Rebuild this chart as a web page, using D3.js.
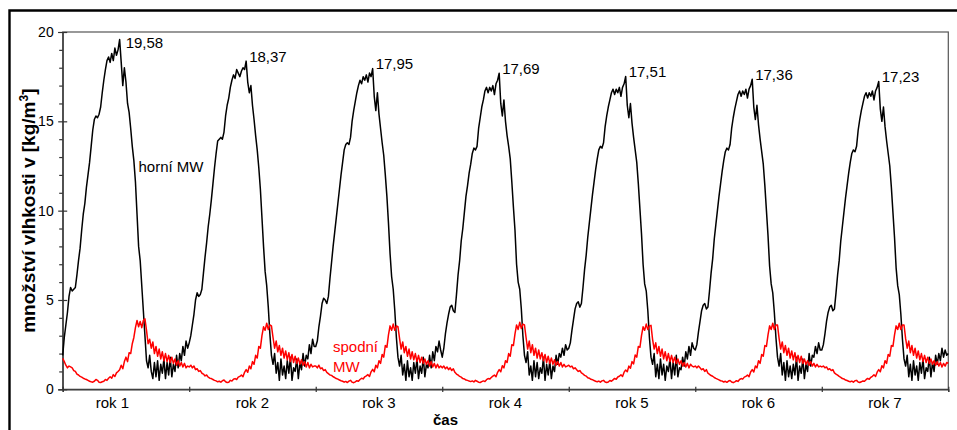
<!DOCTYPE html>
<html>
<head>
<meta charset="utf-8">
<script src="https://cdn.jsdelivr.net/npm/d3@7"></script>
<style>
  body { margin: 0; background: #fff; }
  svg { display: block; }
  text { font-family: "Liberation Sans", Arial, Helvetica, sans-serif; }
</style>
</head>
<body>
<svg id="chart" width="957" height="430"></svg>
<script>
// Year labels along the time axis
const years = ["rok 1", "rok 2", "rok 3", "rok 4", "rok 5", "rok 6", "rok 7"];
const samplesPerYear = 80;

// Annual maxima of the upper layer (also printed above each peak)
const peakValues = [19.58, 18.37, 17.95, 17.69, 17.51, 17.36, 17.23];

const yMajorTicks = [0, 5, 10, 15, 20];
const yMinorTicks = [1, 2, 3, 4, 6, 7, 8, 9, 11, 12, 13, 14, 16, 17, 18, 19];

// Moisture content in the upper mineral wool layer [kg/m3], 80 samples per year
const horniMW = [
  // rok 1
  1.9,2.9,3.6,4.3,5.2,5.7,5.5,5.6,5.7,6.4,
  7.2,7.9,8.9,9.8,10.4,11.3,12.0,12.7,13.6,14.5,
  15.1,15.3,15.2,15.4,15.8,16.6,17.3,17.9,18.4,18.6,
  18.3,18.8,18.4,19.1,18.7,19.0,19.58,18.3,17.0,18.0,
  17.2,16.0,15.5,14.6,13.6,12.8,11.6,9.8,8.0,7.2,
  5.8,4.4,3.0,1.6,1.2,1.9,1.0,0.6,1.5,0.7,
  1.6,0.5,1.4,0.9,1.7,0.6,1.5,0.8,1.8,0.7,
  1.4,1.0,1.9,1.2,2.0,1.6,2.4,1.9,2.7,2.3,
  // rok 2
  2.6,3.0,3.6,4.2,5.0,5.4,5.2,5.3,5.6,6.5,
  7.4,8.2,9.1,9.8,10.6,11.5,12.4,13.2,13.9,14.0,
  14.1,14.0,14.4,15.3,15.9,16.3,16.9,17.3,17.6,17.4,
  17.9,17.7,17.5,17.8,18.0,17.9,18.37,17.2,16.6,17.0,
  15.9,15.1,14.2,13.4,12.4,11.2,9.6,8.0,6.6,5.8,
  4.6,3.1,1.9,1.4,2.0,0.9,1.5,0.5,1.7,0.8,
  1.3,0.6,1.6,0.9,1.8,0.5,1.2,1.0,1.7,0.6,
  1.5,1.1,2.0,1.3,1.9,1.7,2.5,2.0,2.8,2.4,
  // rok 3
  2.4,2.7,3.5,4.1,4.8,5.1,5.0,4.8,5.2,6.2,
  7.1,8.0,8.8,9.6,10.4,11.2,12.0,12.7,13.4,13.7,
  13.8,13.7,14.1,15.0,15.6,16.1,16.6,17.0,17.3,17.1,
  17.5,17.3,17.6,17.2,17.7,17.5,17.95,16.4,15.6,16.6,
  15.4,14.6,13.8,13.1,12.0,10.8,9.3,7.6,6.3,5.6,
  4.4,2.9,1.8,1.3,1.9,0.8,1.4,0.5,1.6,0.7,
  1.2,0.5,1.5,0.9,1.7,0.6,1.3,0.9,1.8,0.7,
  1.4,1.2,1.9,1.2,2.1,1.6,2.4,2.1,2.7,2.2,
  // rok 4
  1.8,2.3,3.1,3.7,4.2,4.6,4.7,4.4,4.3,5.3,
  6.4,7.2,8.3,9.0,9.9,10.8,11.4,12.1,12.6,13.2,
  13.5,13.4,13.6,14.6,15.2,15.8,16.2,16.7,16.9,16.6,
  16.9,16.7,17.0,16.5,17.1,17.3,17.69,16.0,15.3,16.2,
  15.0,14.2,13.6,12.9,11.6,10.2,8.9,7.0,6.0,5.6,
  4.5,3.0,1.9,1.5,2.1,0.8,1.3,0.5,1.6,0.7,
  1.5,0.6,1.2,0.9,1.8,0.5,1.4,0.8,1.6,0.6,
  1.3,1.0,1.9,1.4,2.0,1.8,2.3,1.9,2.5,2.2,
  // rok 5
  2.3,2.6,3.3,3.9,4.5,4.8,4.9,4.6,4.8,5.7,
  6.7,7.5,8.5,9.3,10.1,10.9,11.6,12.3,12.9,13.4,
  13.6,13.5,13.8,14.7,15.3,15.8,16.2,16.6,16.8,16.5,
  16.8,16.6,16.9,16.4,16.9,17.1,17.51,15.9,15.2,16.0,
  14.9,14.1,13.4,12.7,11.5,10.1,8.7,7.0,5.9,5.5,
  4.4,2.9,1.8,1.4,2.0,0.7,1.4,0.6,1.7,0.8,
  1.4,0.5,1.3,1.0,1.7,0.6,1.5,0.8,1.9,0.7,
  1.2,1.1,1.8,1.3,2.1,1.7,2.4,1.9,2.6,2.3,
  // rok 6
  2.2,2.5,3.2,3.8,4.4,4.7,4.8,4.5,4.6,5.5,
  6.5,7.3,8.4,9.2,10.0,10.8,11.5,12.2,12.8,13.3,
  13.5,13.4,13.7,14.6,15.2,15.7,16.1,16.5,16.7,16.4,
  16.7,16.5,16.8,16.3,16.8,17.0,17.36,15.8,15.1,15.9,
  14.8,14.0,13.3,12.6,11.4,10.0,8.6,6.9,5.9,5.4,
  4.3,2.9,1.8,1.3,2.0,0.8,1.5,0.5,1.6,0.7,
  1.3,0.6,1.4,0.8,1.8,0.5,1.3,0.9,1.7,0.6,
  1.4,1.0,2.0,1.3,1.9,1.8,2.4,2.0,2.6,2.2,
  // rok 7
  2.2,2.5,3.1,3.8,4.3,4.6,4.7,4.4,4.5,5.4,
  6.4,7.2,8.3,9.1,9.9,10.7,11.4,12.1,12.7,13.2,
  13.4,13.3,13.6,14.5,15.1,15.6,16.0,16.4,16.6,16.3,
  16.6,16.4,16.7,16.2,16.7,16.9,17.23,15.7,15.0,15.8,
  14.7,13.9,13.2,12.5,11.3,9.9,8.5,6.8,5.8,5.3,
  4.2,2.8,1.7,1.3,1.9,0.7,1.4,0.5,1.6,0.8,
  1.3,0.5,1.5,0.9,1.7,0.6,1.2,1.0,1.8,0.7,
  1.5,1.0,1.9,1.4,2.0,1.6,2.3,1.8,2.2,1.9,
  2.0
];

// Moisture content in the lower mineral wool layer [kg/m3], 80 samples per year
const spodniMW = [
  // rok 1
  1.74,1.55,1.35,1.2,1.3,1.25,1.2,1.05,1.0,0.85,
  0.8,0.72,0.68,0.62,0.58,0.55,0.5,0.45,0.42,0.4,
  0.45,0.55,0.5,0.4,0.38,0.42,0.45,0.55,0.5,0.62,
  0.7,0.62,0.82,0.72,0.92,1.0,1.1,1.35,1.15,1.55,
  1.8,1.55,2.05,2.0,2.55,2.9,3.45,3.85,3.5,3.8,
  3.45,3.85,3.95,3.3,2.55,2.8,2.3,2.65,2.0,2.4,
  1.85,2.25,1.7,2.1,1.6,2.0,1.55,1.9,1.5,1.8,
  1.45,1.7,1.35,1.6,1.3,1.5,1.25,1.45,1.2,1.3,
  // rok 2
  1.25,1.35,1.2,1.3,1.1,1.15,1.0,1.05,0.9,0.85,
  0.75,0.8,0.68,0.62,0.6,0.55,0.5,0.47,0.42,0.45,
  0.4,0.48,0.52,0.42,0.38,0.4,0.5,0.46,0.56,0.6,
  0.55,0.68,0.72,0.8,0.7,0.95,1.1,0.95,1.3,1.15,
  1.55,1.4,1.9,1.75,2.4,2.3,3.0,3.5,3.3,3.7,
  3.35,3.6,3.55,2.9,2.3,2.7,2.1,2.45,1.9,2.3,
  1.75,2.15,1.65,2.05,1.55,1.95,1.5,1.85,1.45,1.75,
  1.4,1.65,1.35,1.55,1.25,1.5,1.2,1.4,1.25,1.3,
  // rok 3
  1.3,1.2,1.35,1.15,1.2,1.05,1.1,0.95,0.88,0.8,
  0.78,0.7,0.66,0.6,0.57,0.52,0.48,0.45,0.4,0.44,
  0.38,0.46,0.5,0.4,0.37,0.42,0.48,0.45,0.55,0.62,
  0.58,0.7,0.75,0.82,0.72,0.98,1.12,0.98,1.35,1.2,
  1.6,1.45,1.95,1.8,2.45,2.35,3.05,3.55,3.3,3.65,
  3.3,3.55,3.5,2.85,2.25,2.65,2.05,2.4,1.85,2.25,
  1.7,2.1,1.65,2.0,1.55,1.9,1.5,1.8,1.45,1.7,
  1.4,1.6,1.3,1.55,1.25,1.45,1.2,1.4,1.2,1.3,
  // rok 4
  1.2,1.3,1.15,1.25,1.1,1.2,1.05,1.15,0.95,0.85,
  0.8,0.72,0.68,0.6,0.58,0.52,0.5,0.46,0.43,0.47,
  0.41,0.5,0.45,0.4,0.38,0.43,0.47,0.44,0.54,0.6,
  0.57,0.66,0.74,0.8,0.7,0.95,1.1,0.98,1.32,1.2,
  1.6,1.5,2.0,1.85,2.5,2.45,3.1,3.6,3.35,3.75,
  3.4,3.65,3.6,2.9,2.25,2.7,2.05,2.5,1.9,2.3,
  1.75,2.2,1.7,2.05,1.6,1.95,1.5,1.85,1.45,1.75,
  1.4,1.65,1.35,1.55,1.3,1.5,1.25,1.4,1.25,1.3,
  // rok 5
  1.35,1.25,1.3,1.15,1.2,1.1,1.0,1.05,0.92,0.86,
  0.78,0.74,0.65,0.62,0.56,0.54,0.49,0.45,0.42,0.46,
  0.4,0.47,0.5,0.41,0.38,0.41,0.49,0.45,0.53,0.61,
  0.56,0.69,0.73,0.81,0.72,0.96,1.08,0.98,1.3,1.18,
  1.55,1.42,1.92,1.8,2.4,2.35,3.0,3.5,3.3,3.65,
  3.35,3.55,3.58,2.8,2.25,2.6,2.0,2.4,1.85,2.25,
  1.7,2.1,1.6,2.0,1.55,1.9,1.5,1.8,1.45,1.7,
  1.4,1.6,1.3,1.5,1.25,1.45,1.2,1.4,1.3,1.25,
  // rok 6
  1.3,1.2,1.3,1.2,1.1,1.15,1.0,1.1,0.9,0.84,
  0.77,0.73,0.66,0.61,0.57,0.53,0.48,0.46,0.41,0.45,
  0.39,0.46,0.49,0.41,0.37,0.42,0.48,0.44,0.55,0.6,
  0.57,0.68,0.72,0.8,0.7,0.97,1.1,0.97,1.3,1.2,
  1.6,1.45,1.95,1.85,2.45,2.4,3.05,3.55,3.35,3.7,
  3.35,3.6,3.6,2.85,2.25,2.65,2.05,2.45,1.9,2.3,
  1.75,2.15,1.65,2.05,1.55,1.9,1.5,1.85,1.45,1.7,
  1.4,1.6,1.35,1.55,1.3,1.45,1.25,1.4,1.25,1.3,
  // rok 7
  1.25,1.3,1.2,1.25,1.1,1.15,1.05,1.1,0.92,0.85,
  0.79,0.72,0.67,0.6,0.58,0.52,0.49,0.45,0.42,0.46,
  0.4,0.48,0.5,0.41,0.38,0.42,0.47,0.45,0.54,0.61,
  0.56,0.67,0.73,0.81,0.72,0.96,1.1,0.98,1.32,1.2,
  1.6,1.45,1.95,1.85,2.45,2.4,3.05,3.55,3.35,3.7,
  3.35,3.6,3.6,2.85,2.3,2.7,2.05,2.45,1.9,2.3,
  1.75,2.15,1.65,2.0,1.55,1.9,1.5,1.8,1.45,1.7,
  1.4,1.6,1.35,1.55,1.3,1.5,1.25,1.45,1.3,1.5,
  1.45
];

const svg = d3.select("#chart");
const margin = { left: 62.7, right: 948.3, top: 32, bottom: 389.3 };

const x = d3.scaleLinear().domain([0, years.length]).range([margin.left, margin.right]);
const y = d3.scaleLinear().domain([0, 20]).range([margin.bottom, margin.top]);

// Outer figure frame (only the left and top edges fall inside the view)
svg.append("path")
  .attr("d", "M9.5,440 V10.5 H970")
  .attr("fill", "none")
  .attr("stroke", "#000")
  .attr("stroke-width", 2.4);

// Plot frame
svg.append("rect")
  .attr("x", margin.left).attr("y", margin.top)
  .attr("width", margin.right - margin.left)
  .attr("height", margin.bottom - margin.top)
  .attr("fill", "none")
  .attr("stroke", "#555")
  .attr("stroke-width", 1.2);

// Y axis: major ticks crossing the axis line, minor ticks outside
const yMinor = svg.append("g")
  .attr("transform", `translate(${margin.left},0)`)
  .call(d3.axisLeft(y).tickValues(yMinorTicks).tickSize(3.5).tickFormat(""));
yMinor.select(".domain").remove();

const yAxis = svg.append("g")
  .attr("transform", `translate(${margin.left},0)`)
  .call(d3.axisLeft(y).tickValues(yMajorTicks).tickSize(4.5).tickPadding(4.5));
yAxis.selectAll(".tick line").attr("x1", 4.5);
yAxis.selectAll("text")
  .attr("font-size", 14)
  .attr("font-family", "'Liberation Sans', Arial, sans-serif")
  .attr("fill", "#000");

// X axis: ticks at year boundaries
const xAxis = svg.append("g")
  .attr("transform", `translate(0,${margin.bottom})`)
  .call(d3.axisBottom(x).tickValues(d3.range(0, years.length + 1)).tickSize(2.6).tickFormat(""));
xAxis.selectAll(".tick line").attr("y1", -2.6);

[yMinor, yAxis, xAxis].forEach(g => {
  g.selectAll("line, path").attr("stroke", "#333").attr("stroke-width", 1.2);
});

// Year labels centred in each year
svg.append("g").selectAll("text")
  .data(years)
  .join("text")
  .attr("x", (d, i) => x(i + 0.5) + (i === 0 ? -13.5 : 0))
  .attr("y", 408)
  .attr("text-anchor", "middle")
  .attr("font-size", 15)
  .text(d => d);

// Axis titles
svg.append("text")
  .attr("x", 445.5).attr("y", 424.5)
  .attr("text-anchor", "middle")
  .attr("font-size", 15)
  .attr("font-weight", "bold")
  .text("čas");

const yTitle = svg.append("text")
  .attr("transform", `translate(35,${(margin.top + margin.bottom) / 2}) rotate(-90)`)
  .attr("text-anchor", "middle")
  .attr("font-size", 19)
  .attr("font-weight", "bold");
yTitle.append("tspan").text("množství vlhkosti v [kg/m");
yTitle.append("tspan").attr("font-size", 12).attr("dy", -7).text("3");
yTitle.append("tspan").attr("dy", 7).text("]");

// Series lines
const line = d3.line()
  .x((d, i) => x(i / samplesPerYear))
  .y(d => y(d));

svg.append("path")
  .datum(horniMW)
  .attr("d", line)
  .attr("fill", "none")
  .attr("stroke", "#000")
  .attr("stroke-width", 1.5)
  .attr("stroke-linejoin", "round");

svg.append("path")
  .datum(spodniMW)
  .attr("d", line)
  .attr("fill", "none")
  .attr("stroke", "#ff0000")
  .attr("stroke-width", 1.5)
  .attr("stroke-linejoin", "round");

// Peak value labels, placed at each year's maximum of the upper layer
const fmt = v => d3.format(".2f")(v).replace(".", ",");
peakValues.forEach((v, k) => {
  const start = k * samplesPerYear;
  const slice = horniMW.slice(start, start + samplesPerYear);
  const idx = start + slice.indexOf(v);
  const px = x(idx / samplesPerYear);
  const py = y(v);
  svg.append("text")
    .attr("x", px + (k === 0 ? 6 : 3))
    .attr("y", py + (k === 0 ? 8.5 : 0.5))
    .attr("font-size", 15)
    .text(fmt(v));
});

// Series labels
svg.append("text")
  .attr("x", 138.5).attr("y", 171.5)
  .attr("font-size", 15)
  .text("horní MW");

const spodniLabel = svg.append("text")
  .attr("font-size", 15)
  .attr("fill", "#ff0000");
spodniLabel.append("tspan").attr("x", 333).attr("y", 352).text("spodní");
spodniLabel.append("tspan").attr("x", 333).attr("y", 371.7).text("MW");
</script>
</body>
</html>
